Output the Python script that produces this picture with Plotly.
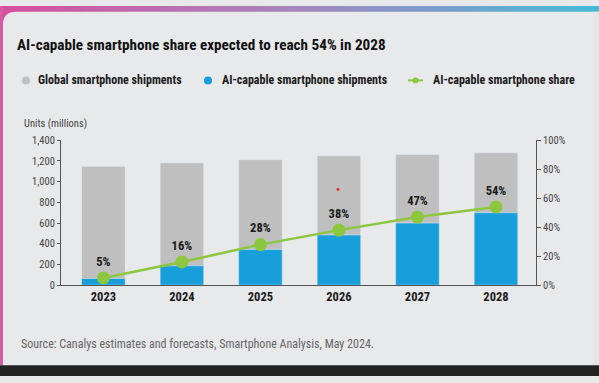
import plotly.graph_objects as go

years = ["2023", "2024", "2025", "2026", "2027", "2028"]
global_shipments = [1148, 1182, 1213, 1250, 1263, 1279]
ai_shipments = [65, 187, 345, 485, 600, 700]
ai_share = [5, 16, 28, 38, 47, 54]
share_labels = [f"{v}%" for v in ai_share]

left_ticks = [0, 200, 400, 600, 800, 1000, 1200, 1400]
left_tick_text = ["0", "200", "400", "600", "800", "1,000", "1,200", "1,400"]
right_ticks = [0, 20, 40, 60, 80, 100]
right_tick_text = ["0%", "20%", "40%", "60%", "80%", "100%"]

W, H = 599, 383
GRAY = "#bfbfbf"
BLUE = "#189fdb"
GREEN = "#8dc63f"
BG = "#e8e9eb"
FONT = "Roboto Condensed, Roboto, Arial"

def px(x):
    return x / W

def py(y):
    return 1 - y / H

fig = go.Figure()
fig.add_trace(go.Bar(x=years, y=global_shipments, marker_color=GRAY, width=0.555,
                     name="Global smartphone shipments", showlegend=False, hoverinfo="skip"))
fig.add_trace(go.Bar(x=years, y=ai_shipments, marker_color=BLUE, width=0.555,
                     name="AI-capable smartphone shipments", showlegend=False, hoverinfo="skip"))
fig.add_trace(go.Scatter(x=years, y=ai_share, yaxis="y2", mode="lines+markers+text",
                         line=dict(color=GREEN, width=2.5),
                         marker=dict(color=GREEN, size=13),
                         text=share_labels, textposition="top center",
                         textfont=dict(family=FONT, size=12.5, color="#1a1a1a", weight="bold"),
                         name="AI-capable smartphone share", showlegend=False,
                         cliponaxis=False, hoverinfo="skip"))

shapes = []
# top gradient band
c0 = (214, 80, 160)
c1 = (165, 135, 192)
c2 = (70, 185, 215)
n = 80
for i in range(n):
    t = i / (n - 1)
    if t < 0.5:
        a, b, tt = c0, c1, t / 0.5
    else:
        a, b, tt = c1, c2, (t - 0.5) / 0.5
    col = "rgb(%d,%d,%d)" % tuple(int(a[k] + (b[k] - a[k]) * tt) for k in range(3))
    shapes.append(dict(type="rect", xref="paper", yref="paper", layer="below",
                       x0=i / n, x1=(i + 1) / n + 0.002, y0=py(22), y1=1,
                       fillcolor=col, line_width=0))
# left pink strip
shapes.append(dict(type="rect", xref="paper", yref="paper", layer="below",
                   x0=0, x1=px(3), y0=py(372), y1=py(0), fillcolor="#d65aa5", line_width=0))
# panel with rounded top-left corner
r = 13
path = (f"M {px(3)},{py(372)} L {px(3)},{py(6 + r)} Q {px(3)},{py(6)} {px(3 + r)},{py(6)} "
        f"L 1,{py(6)} L 1,{py(372)} Z")
shapes.append(dict(type="path", xref="paper", yref="paper", layer="below", path=path,
                   fillcolor=BG, line_width=0))
# right faint strip
shapes.append(dict(type="rect", xref="paper", yref="paper", layer="below",
                   x0=px(593), x1=1, y0=py(372), y1=py(6), fillcolor="#e4e6e8", line_width=0))
# bottom dark band
shapes.append(dict(type="rect", xref="paper", yref="paper", layer="below",
                   x0=0, x1=1, y0=0, y1=py(372), fillcolor="#232323", line_width=0))
# stray red dot
shapes.append(dict(type="circle", xref="paper", yref="paper",
                   x0=px(336.5), x1=px(339.5), y0=py(191.5), y1=py(188.5),
                   fillcolor="#e0302a", line_width=0))

# legend markers
shapes.append(dict(type="circle", xref="paper", yref="paper",
                   x0=px(22), x1=px(30), y0=py(81), y1=py(73), fillcolor=GRAY, line_width=0))
shapes.append(dict(type="circle", xref="paper", yref="paper",
                   x0=px(204), x1=px(212), y0=py(81), y1=py(73), fillcolor=BLUE, line_width=0))
shapes.append(dict(type="line", xref="paper", yref="paper",
                   x0=px(408), x1=px(423), y0=py(77), y1=py(77), line=dict(color=GREEN, width=2)))
shapes.append(dict(type="circle", xref="paper", yref="paper",
                   x0=px(412.5), x1=px(418.5), y0=py(80), y1=py(74), fillcolor=GREEN, line_width=0))

annotations = [
    dict(text="<b>AI-capable smartphone share expected to reach 54% in 2028</b>",
         xref="paper", yref="paper", x=px(15), y=py(40), xanchor="left", yanchor="middle",
         showarrow=False, font=dict(family=FONT, size=15.2, color="#111")),
    dict(text="<b>Global smartphone shipments</b>", xref="paper", yref="paper",
         x=px(36), y=py(77), xanchor="left", yanchor="middle", showarrow=False,
         font=dict(family=FONT, size=12, color="#1a1a1a")),
    dict(text="<b>AI-capable smartphone shipments</b>", xref="paper", yref="paper",
         x=px(220), y=py(77), xanchor="left", yanchor="middle", showarrow=False,
         font=dict(family=FONT, size=12, color="#1a1a1a")),
    dict(text="<b>AI-capable smartphone share</b>", xref="paper", yref="paper",
         x=px(431), y=py(77), xanchor="left", yanchor="middle", showarrow=False,
         font=dict(family=FONT, size=12, color="#1a1a1a")),
    dict(text="Units (millions)", xref="paper", yref="paper",
         x=px(22), y=py(122), xanchor="left", yanchor="middle", showarrow=False,
         font=dict(family=FONT, size=10.5, color="#444")),
    dict(text="Source: Canalys estimates and forecasts, Smartphone Analysis, May 2024.",
         xref="paper", yref="paper", x=px(19), y=py(350), xanchor="left", yanchor="middle",
         showarrow=False, font=dict(family=FONT, size=12, color="#666")),
]

fig.update_layout(
    width=W, height=H,
    margin=dict(l=0, r=0, t=0, b=0),
    paper_bgcolor=BG, plot_bgcolor="rgba(0,0,0,0)",
    barmode="overlay", showlegend=False,
    font=dict(family=FONT),
    shapes=shapes, annotations=annotations,
    xaxis=dict(domain=[px(61), px(536)], range=[-0.54, 5.51], showgrid=False,
               showline=True, linecolor="#555", linewidth=1, ticks="",
               tickfont=dict(family=FONT, size=12.5, color="#1a1a1a", weight="bold")),
    yaxis=dict(domain=[py(289), py(139)], range=[0, 1400], tickvals=left_ticks,
               ticktext=left_tick_text, showgrid=False, zeroline=False,
               showline=True, linecolor="#555", linewidth=1, ticks="outside",
               ticklen=3, tickcolor="#555",
               tickfont=dict(family=FONT, size=10.5, color="#444")),
    yaxis2=dict(overlaying="y", side="right", anchor="x", range=[0, 100],
                tickvals=right_ticks, ticktext=right_tick_text, showgrid=False,
                zeroline=False, showline=True, linecolor="#555", linewidth=1,
                ticks="outside", ticklen=4, tickcolor="#555",
                tickfont=dict(family=FONT, size=10.5, color="#444")),
)

fig.write_html("out.html", config={"displayModeBar": False},
               post_script="document.body.style.margin='0';")
